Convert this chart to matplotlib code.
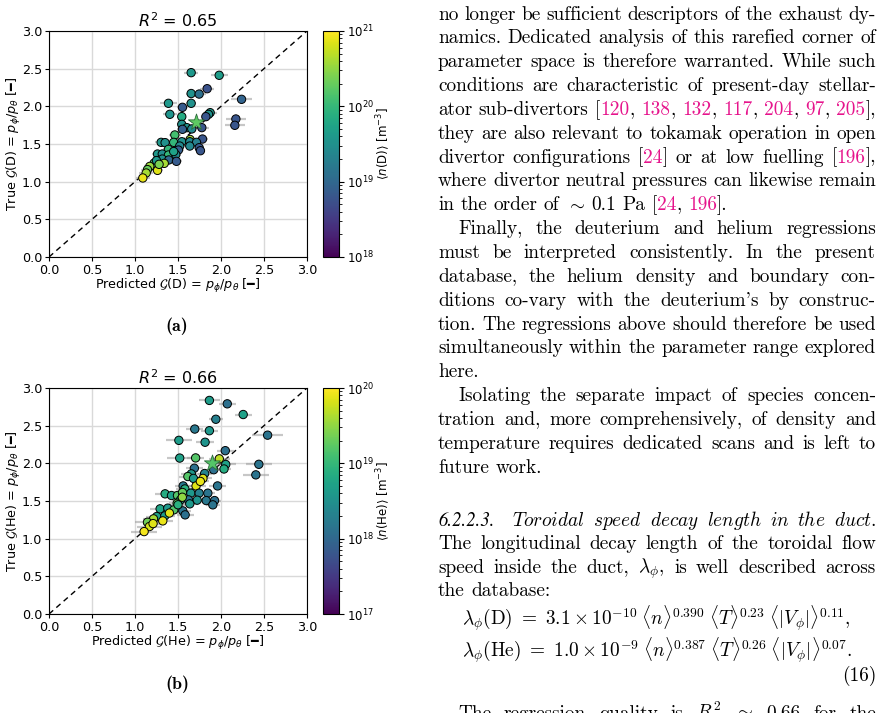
import re
import matplotlib as mpl

mpl.use('Agg')
import matplotlib.pyplot as plt
import numpy as np
from matplotlib.colors import LogNorm

# ---- panel (a): deuterium ----
xa = [1.653, 1.979, 1.839, 1.653, 1.746, 2.239, 1.389, 1.653, 1.552, 1.405,
      1.544, 1.874, 1.855, 1.824, 2.173, 2.161, 1.777, 1.544, 1.603, 1.552,
      1.66, 1.463, 1.64, 1.785, 1.304, 1.35, 1.45, 1.544, 1.637, 1.715,
      1.637, 1.52, 1.389, 1.505, 1.746, 1.761, 1.262, 1.317, 1.389, 1.474,
      1.317, 1.393, 1.482, 1.34, 1.223, 1.172, 1.145, 1.262, 1.13, 1.091,
      1.25, 1.45, 1.28]
ya = [2.447, 2.412, 2.234, 2.17, 2.163, 2.093, 2.04, 2.04, 1.987, 1.894,
      1.863, 1.916, 1.894, 1.863, 1.832, 1.748, 1.717, 1.761, 1.717, 1.695,
      1.70, 1.62, 1.56, 1.566, 1.522, 1.518, 1.522, 1.53, 1.53, 1.522,
      1.473, 1.473, 1.429, 1.42, 1.451, 1.411, 1.367, 1.367, 1.354, 1.36,
      1.30, 1.288, 1.27, 1.243, 1.247, 1.203, 1.16, 1.15, 1.115, 1.049,
      1.28, 1.40, 1.23]
logn_a = [19.6, 19.65, 18.75, 19.5, 19.1, 18.95, 19.6, 19.5, 18.85, 19.55,
          19.85, 19.6, 19.5, 18.8, 18.8, 18.8, 18.8, 19.5, 19.5, 18.9,
          19.4, 20.1, 20.6, 18.8, 19.6, 19.5, 20.0, 19.5, 19.4, 19.3,
          19.4, 19.4, 20.0, 18.9, 18.85, 18.8, 19.6, 19.45, 20.0, 19.4,
          19.5, 19.0, 18.85, 20.6, 20.2, 20.55, 20.3, 20.85, 20.6, 20.9,
          19.6, 19.7, 20.4]
xerr_a = [0.08, 0.10, 0.08, 0.06, 0.08, 0.12, 0.10, 0.06, 0.06, 0.08,
          0.05, 0.08, 0.05, 0.05, 0.12, 0.12, 0.08, 0.06, 0.06, 0.06,
          0.05, 0.07, 0.05, 0.06, 0.07, 0.07, 0.06, 0.06, 0.06, 0.05,
          0.06, 0.06, 0.06, 0.06, 0.05, 0.05, 0.07, 0.07, 0.06, 0.06,
          0.06, 0.06, 0.06, 0.06, 0.06, 0.07, 0.07, 0.06, 0.08, 0.08,
          0.05, 0.06, 0.06]
star_a = (1.707, 1.792, 20.25)

# ---- panel (b): helium ----
xb = [1.865, 2.073, 2.258, 1.94, 1.695, 1.865, 2.542, 1.51, 1.815, 2.05,
      1.52, 1.705, 1.98, 2.055, 2.44, 2.035, 1.915, 1.69, 2.405, 1.81,
      1.655, 1.615, 1.79, 1.68, 1.71, 1.96, 1.56, 1.58, 1.35, 1.424,
      1.494, 1.552, 1.649, 1.746, 1.847, 1.529, 1.622, 1.723, 1.828, 1.925,
      1.905, 1.637, 1.49, 1.292, 1.381, 1.451, 1.556, 1.583, 1.253, 1.347,
      1.215, 1.323, 1.145, 1.168, 1.21, 1.106, 1.40, 1.50, 1.76, 1.55]
yb = [2.835, 2.79, 2.648, 2.585, 2.455, 2.433, 2.374, 2.305, 2.28, 2.168,
      2.07, 2.072, 2.06, 1.985, 1.987, 1.925, 1.915, 1.935, 1.847, 1.865,
      1.86, 1.825, 1.80, 1.80, 1.70, 1.70, 1.70, 1.66, 1.595, 1.573,
      1.573, 1.613, 1.604, 1.604, 1.604, 1.515, 1.515, 1.511, 1.506, 1.506,
      1.449, 1.462, 1.47, 1.396, 1.405, 1.382, 1.369, 1.316, 1.294, 1.303,
      1.263, 1.236, 1.218, 1.161, 1.20, 1.094, 1.34, 1.45, 1.76, 1.55]
logn_b = [18.65, 18.1, 18.7, 18.3, 18.2, 18.6, 18.15, 18.65, 18.55, 18.1,
          18.7, 19.2, 19.7, 18.7, 18.15, 18.85, 18.1, 18.1, 18.15, 18.35,
          18.6, 19.2, 19.85, 18.6, 19.85, 18.15, 18.2, 18.9, 18.85, 18.7,
          19.2, 19.3, 18.6, 18.3, 18.15, 18.6, 18.15, 18.55, 18.2, 18.1,
          18.15, 18.6, 19.3, 18.75, 18.6, 19.2, 18.15, 18.1, 18.7, 18.65,
          19.6, 19.9, 19.35, 19.8, 19.85, 19.95, 19.85, 18.9, 19.9, 19.5]
xerr_b = [0.12, 0.10, 0.10, 0.08, 0.10, 0.10, 0.18, 0.15, 0.10, 0.10,
          0.15, 0.10, 0.12, 0.12, 0.15, 0.08, 0.08, 0.10, 0.15, 0.08,
          0.12, 0.10, 0.10, 0.10, 0.12, 0.10, 0.10, 0.10, 0.12, 0.10,
          0.10, 0.10, 0.10, 0.10, 0.08, 0.10, 0.10, 0.10, 0.08, 0.08,
          0.08, 0.10, 0.10, 0.12, 0.12, 0.12, 0.10, 0.10, 0.12, 0.12,
          0.12, 0.12, 0.15, 0.15, 0.12, 0.15, 0.10, 0.10, 0.10, 0.10]
star_b = (1.895, 2.01, 19.2)

yerr = 0.04
ticks = [0.0, 0.5, 1.0, 1.5, 2.0, 2.5, 3.0]

W, H = 892, 713
fig = plt.figure(figsize=(W / 100, H / 100), dpi=100)
FS = 9.2


def box(l, t, r, b):
    return [l / W, 1 - b / H, (r - l) / W, (b - t) / H]


def panel(top, x, y, logn, xerr, star, vmin, vmax, r2, sp):
    ax = fig.add_axes(box(49, top, 307, top + 226))
    cax = fig.add_axes(box(323, top, 339, top + 226))
    norm = LogNorm(vmin, vmax)
    ax.grid(True, color='#d9d9d9', lw=1.0)
    ax.set_axisbelow(True)
    ax.plot([0, 3], [0, 3], color='k', ls='--', lw=1.0, dashes=(4, 3), zorder=1)
    ax.errorbar(x + [star[0]], y + [star[1]], xerr=xerr + [0.06], yerr=yerr,
                fmt='none', ecolor='#9a9a9a', alpha=0.55, elinewidth=1.6, zorder=2)
    sc = ax.scatter(x, y, c=10 ** np.array(logn), cmap='viridis', norm=norm,
                    s=36, edgecolors='k', linewidths=0.7, zorder=3)
    ax.scatter([star[0]], [star[1]], c=[10 ** star[2]], cmap='viridis', norm=norm,
               marker='*', s=150, edgecolors='#2d6b3c', linewidths=0.6, zorder=4)
    ax.set_xlim(0, 3)
    ax.set_ylim(0, 3)
    ax.set_xticks(ticks)
    ax.set_yticks(ticks)
    ax.tick_params(labelsize=FS, pad=2, length=3)
    ax.set_title(r'$R^2$ = ' + r2, fontsize=11.5, pad=3)
    ax.set_xlabel(r'Predicted $\mathcal{G}$(' + sp + r') = $p_\phi/p_\theta$ [━]',
                  fontsize=FS, labelpad=0)
    ax.set_ylabel(r'True $\mathcal{G}$(' + sp + r') = $p_\phi/p_\theta$ [━]',
                  fontsize=FS, labelpad=-1)
    cb = fig.colorbar(sc, cax=cax)
    cb.minorticks_on()
    cb.ax.tick_params(labelsize=8.5, pad=2)
    cb.set_label(r'$\langle n(\mathrm{' + sp + r'})\rangle$ [m$^{-3}$]', fontsize=8.5, labelpad=0)
    return ax


panel(31, xa, ya, logn_a, xerr_a, star_a, 1e18, 1e21, '0.65', 'D')
panel(388, xb, yb, logn_b, xerr_b, star_b, 1e17, 1e20, '0.66', 'He')

cap = dict(family='cmb10', fontsize=13, ha='center', va='baseline')
fig.text(177 / W, 1 - 331 / H, '(a)', **cap)
fig.text(177 / W, 1 - 689 / H, '(b)', **cap)

# ---- running text of the page ----
BODY = 13.9
LEFT, RIGHT, IND = 438, 876, 20
CITE = '#e6148c'
txt = dict(family='cmr10', math_fontfamily='cm', fontsize=BODY, va='baseline', ha='left')
ital = dict(txt, family='STIXGeneral', style='italic', fontsize=BODY - 0.4)
renderer = fig.canvas.get_renderer()


def measure(s, kw=txt):
    t = fig.text(0, 0, s, **kw)
    w = t.get_window_extent(renderer).width
    t.remove()
    return w


SPACE = measure('a a') - measure('aa')


def put_line(yb_, line, indent=0, justify=True, first_gap=1.0):
    # citations are marked as <...> (magenta); a leading '#' means italic numerals
    words = []
    for w in line.split(' '):
        if w.startswith('#'):
            words.append([(w[1:], 'black', ital)])
            continue
        parts = re.split(r'[<>]', w)
        words.append([(p, CITE if i % 2 else 'black', txt)
                      for i, p in enumerate(parts) if p])
    widths = [[measure(s, kw) for s, _, kw in w] for w in words]
    total = sum(sum(ws) for ws in widths)
    n = len(words)
    weights = [first_gap] + [1.0] * (n - 2) if n > 1 else []
    if justify and n > 1:
        unit = (RIGHT - LEFT - indent - total) / sum(weights)
    else:
        unit = SPACE
    x = LEFT + indent
    for k, (w, ws) in enumerate(zip(words, widths)):
        for (s, c, kw), sw in zip(w, ws):
            fig.text(x / W, 1 - yb_ / H, s, color=c, **kw)
            x += sw
        if k < n - 1:
            x += unit * weights[k]


para = [
    ('no longer be sufficient descriptors of the exhaust dy-', 0, True),
    ('namics. Dedicated analysis of this rarefied corner of', 0, True),
    ('parameter space is therefore warranted. While such', 0, True),
    ('conditions are characteristic of present-day stellar-', 0, True),
    ('ator sub-divertors [<120>, <138>, <132>, <117>, <204>, <97>, <205>],', 0, True),
    ('they are also relevant to tokamak operation in open', 0, True),
    ('divertor configurations [<24>] or at low fuelling [<196>],', 0, True),
    ('where divertor neutral pressures can likewise remain', 0, True),
    (r'in the order of $\sim$ 0.1 Pa [<24>, <196>].', 0, False),
    ('Finally, the deuterium and helium regressions', IND, True),
    ('must be interpreted consistently. In the present', 0, True),
    ('database, the helium density and boundary con-', 0, True),
    ("ditions co-vary with the deuterium's by construc-", 0, True),
    ('tion. The regressions above should therefore be used', 0, True),
    ('simultaneously within the parameter range explored', 0, True),
    ('here.', 0, False),
    ('Isolating the separate impact of species concen-', IND, True),
    ('tration and, more comprehensively, of density and', 0, True),
    ('temperature requires dedicated scans and is left to', 0, True),
    ('future work.', 0, False),
]
for i, (line, ind, just) in enumerate(para):
    put_line(19.5 + i * 23.85, line, ind, just)

heading = (r'#6.2.2.3. $\mathit{Toroidal}$ $\mathit{speed}$ $\mathit{decay}$ '
           r'$\mathit{length}$ $\mathit{in}$ $\mathit{the}$ $\mathit{duct}$.')
put_line(525.5, heading, 0, True, first_gap=2.2)
put_line(549.2, 'The longitudinal decay length of the toroidal flow', 0, True)
put_line(572.8, r'speed inside the duct, $\lambda_\phi$, is well described across', 0, True)
put_line(596.4, 'the database:', 0, False)

eq1 = (r'$\lambda_\phi(\mathrm{D})\ =\ 3.1\times10^{-10}\;\langle n\rangle^{0.390}\;'
       r'\langle T\rangle^{0.23}\;\langle|V_\phi|\rangle^{0.11},$')
eq2 = (r'$\lambda_\phi(\mathrm{He})\ =\ 1.0\times10^{-9}\;\langle n\rangle^{0.387}\;'
       r'\langle T\rangle^{0.26}\;\langle|V_\phi|\rangle^{0.07}.$')
fig.text(462 / W, 1 - 625 / H, eq1, **txt)
fig.text(462 / W, 1 - 656.5 / H, eq2, **txt)
fig.text(RIGHT / W, 1 - 681 / H, '(16)', **{**txt, 'ha': 'right'})
put_line(719, r'The regression quality is $R^2$ $\approx$ 0.66 for the', IND, True)

fig.savefig('out.png', dpi=100)
